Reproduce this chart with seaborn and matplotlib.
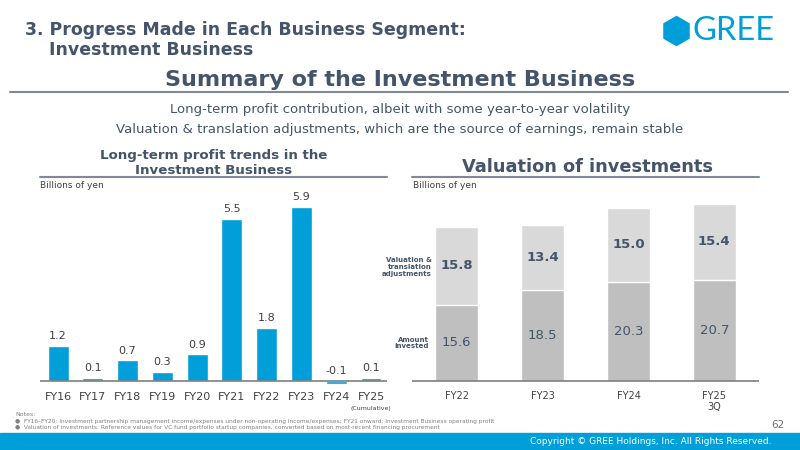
import matplotlib
matplotlib.use("Agg")
import matplotlib.pyplot as plt
from matplotlib.patches import RegularPolygon, Rectangle
from matplotlib.lines import Line2D
import seaborn as sns

# ---- data ----
profit_years = ["FY16", "FY17", "FY18", "FY19", "FY20", "FY21", "FY22", "FY23", "FY24", "FY25"]
profit_values = [1.2, 0.1, 0.7, 0.3, 0.9, 5.5, 1.8, 5.9, -0.1, 0.1]

val_years = ["FY22", "FY23", "FY24", "FY25\n3Q"]
amount_invested = [15.6, 18.5, 20.3, 20.7]
valuation_adj = [15.8, 13.4, 15.0, 15.4]

BLUE = "#009fd9"
DARK = "#44546a"
GRAY_TXT = "#404040"
LIGHT_SEG = "#d9d9d9"
DARK_SEG = "#bfbfbf"
RULE = "#7f8a97"

sns.set_theme(style="white")
plt.rcParams["font.family"] = ["DejaVu Sans"]

fig = plt.figure(figsize=(8, 4.5), dpi=100)
W, H = 800, 450


def fx(px):
    return px / W


def fy(py):
    return 1 - py / H


# ---- header ----
fig.text(fx(25), fy(30), "3. Progress Made in Each Business Segment:", fontsize=12.5,
         fontweight="bold", color=DARK, va="center", ha="left")
fig.text(fx(49), fy(50), "Investment Business", fontsize=12.5,
         fontweight="bold", color=DARK, va="center", ha="left")
fig.text(0.5, fy(80), "Summary of the Investment Business", fontsize=16,
         fontweight="bold", color=DARK, va="center", ha="center")
fig.add_artist(Line2D([fx(10), fx(788)], [fy(92), fy(92)], color=RULE, lw=1.5))
fig.text(0.5, fy(110), "Long-term profit contribution, albeit with some year-to-year volatility",
         fontsize=9.5, color=DARK, va="center", ha="center")
fig.text(0.5, fy(129), "Valuation & translation adjustments, which are the source of earnings, remain stable",
         fontsize=9.5, color=DARK, va="center", ha="center")

# GREE logo
fig.add_artist(RegularPolygon((6.765, 4.5 - 0.31), numVertices=6, radius=0.145,
                              orientation=0, color=BLUE, transform=fig.dpi_scale_trans))
fig.text(fx(692), fy(31), "GREE", fontsize=23.5, color=BLUE, va="center", ha="left",
         family="Lato")

# ---- left chart: profit trends ----
ax1 = fig.add_axes([fx(40), fy(385), fx(387) - fx(40), fy(190) - fy(385)])
sns.barplot(x=profit_years, y=profit_values, color=BLUE, saturation=1, width=0.6, ax=ax1)
ax1.set_xlim(-0.52, 9.46)
ax1.set_ylim(-0.136, 6.47)
for i, v in enumerate(profit_values):
    ax1.text(i, max(v, 0) + 0.16, f"{v:.1f}", ha="center", va="bottom",
             fontsize=8, color=GRAY_TXT)
ax1.axhline(0, color="#7f7f7f", lw=1.2)
for s in ax1.spines.values():
    s.set_visible(False)
ax1.set_yticks([])
ax1.set_xlabel("")
ax1.set_ylabel("")
ax1.tick_params(axis="x", length=0, labelsize=8, labelcolor=GRAY_TXT, pad=5)
ax1.text(9, -0.92, "(Cumulative)", fontsize=4.5, color=GRAY_TXT, ha="center", va="center")

fig.text(fx(214), fy(155), "Long-term profit trends in the", fontsize=9.6, fontweight="bold",
         color=DARK, ha="center", va="center")
fig.text(fx(214), fy(170), "Investment Business", fontsize=9.6, fontweight="bold",
         color=DARK, ha="center", va="center")
fig.add_artist(Line2D([fx(40), fx(387)], [fy(177), fy(177)], color=RULE, lw=1.5))
fig.text(fx(40), fy(185), "Billions of yen", fontsize=6.5, color=GRAY_TXT, ha="left", va="center")

# ---- right chart: valuation of investments ----
ax2 = fig.add_axes([fx(412), fy(385), fx(759) - fx(412), fy(190) - fy(385)])
totals = [a + b for a, b in zip(amount_invested, valuation_adj)]
sns.barplot(x=val_years, y=totals, color=LIGHT_SEG, saturation=1, width=0.5, ax=ax2)
sns.barplot(x=val_years, y=amount_invested, color=DARK_SEG, saturation=1, width=0.5, ax=ax2)
ax2.set_xlim(-0.52, 3.52)
ax2.set_ylim(-0.82, 39)
for i, (a, b) in enumerate(zip(amount_invested, valuation_adj)):
    ax2.text(i, a / 2, f"{a:.1f}", ha="center", va="center", fontsize=9.5, color=DARK)
    ax2.text(i, a + b / 2, f"{b:.1f}", ha="center", va="center", fontsize=9.5,
             fontweight="bold", color=DARK)
ax2.axhline(0, color="#7f7f7f", lw=1.2)
for s in ax2.spines.values():
    s.set_visible(False)
ax2.set_yticks([])
ax2.set_xlabel("")
ax2.set_ylabel("")
ax2.tick_params(axis="x", length=0, labelsize=7, labelcolor=GRAY_TXT, pad=4)

fig.text(fx(587), fy(167), "Valuation of investments", fontsize=12.8, fontweight="bold",
         color=DARK, ha="center", va="center")
fig.add_artist(Line2D([fx(412), fx(759)], [fy(177), fy(177)], color=RULE, lw=1.5))
fig.text(fx(413), fy(185), "Billions of yen", fontsize=6.5, color=GRAY_TXT, ha="left", va="center")

fig.text(fx(432), fy(267), "Valuation &\ntranslation\nadjustments", fontsize=5, fontweight="bold",
         color=DARK, ha="right", va="center", linespacing=1.2)
fig.text(fx(429), fy(343), "Amount\ninvested", fontsize=5, fontweight="bold",
         color=DARK, ha="right", va="center", linespacing=1.2)

# ---- notes & footer ----
fig.text(fx(15), fy(414), "Notes:", fontsize=4.5, color="#808080", ha="left", va="center")
fig.text(fx(15), fy(421), "\u25cf  FY16\u2013FY20: Investment partnership management income/expenses under non-operating income/expenses; FY21 onward: Investment Business operating profit",
         fontsize=4.2, color="#808080", ha="left", va="center")
fig.text(fx(15), fy(428), "\u25cf  Valuation of investments: Reference values for VC fund portfolio startup companies, converted based on most-recent financing procurement",
         fontsize=4.2, color="#808080", ha="left", va="center")
fig.text(fx(785), fy(425), "62", fontsize=7.5, color="#707070", ha="right", va="center")

fig.add_artist(Rectangle((0, 0), 1, 17 / H, transform=fig.transFigure,
                         color=BLUE, zorder=0))
fig.text(fx(772), fy(442), "Copyright \u00a9 GREE Holdings, Inc. All Rights Reserved.",
         fontsize=6.5, color="white", ha="right", va="center")

fig.savefig("out.png", dpi=100)
